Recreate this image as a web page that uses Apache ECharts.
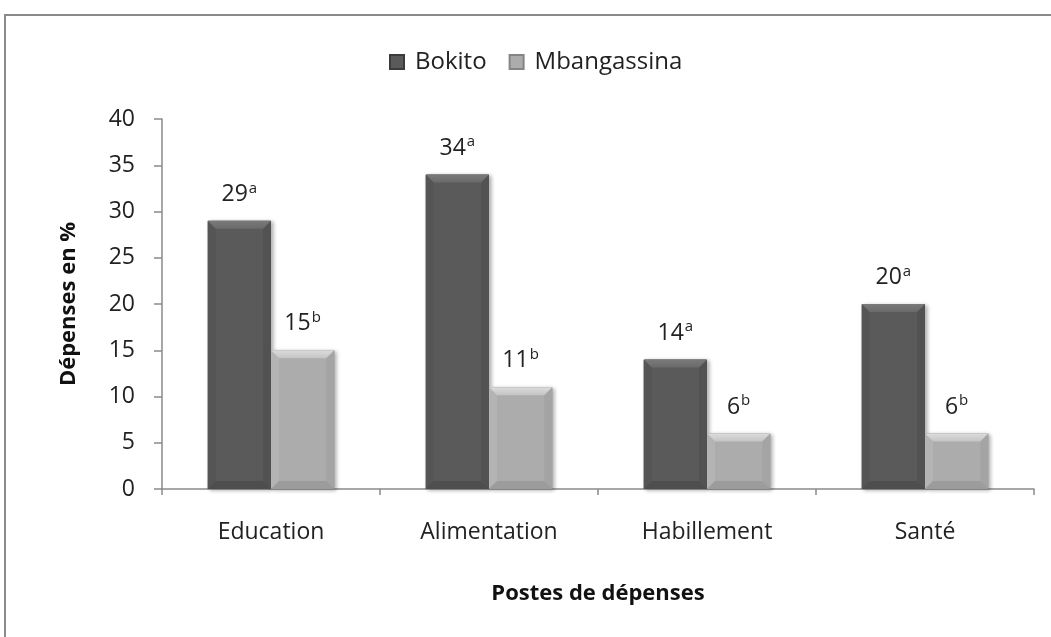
<!DOCTYPE html>
<html>
<head>
<meta charset="UTF-8">
<script src="https://cdn.jsdelivr.net/npm/echarts@6/dist/echarts.min.js"></script>
<style>
  body { margin: 0; background: #fff; }
  #chart { width: 1051px; height: 637px; }
</style>
</head>
<body>
<div id="chart"></div>
<script>
// data
const categories = ['Education', 'Alimentation', 'Habillement', 'Santé'];
const bokito = [29, 34, 14, 20];
const mbangassina = [15, 11, 6, 6];
const bokitoLetters = ['a', 'a', 'a', 'a'];
const mbangassinaLetters = ['b', 'b', 'b', 'b'];
const yTicks = [0, 5, 10, 15, 20, 25, 30, 35, 40];

const font = '"Open Sans", "Noto Sans", sans-serif';
const catGap = 0.42;   // share of a category left empty
const bevel = 8;

function labelFor(letters) {
    return {
        show: true,
        position: 'top',
        distance: 13,
        formatter: p => '{v|' + p.value + '}{s|' + letters[p.dataIndex] + '}',
        rich: {
            v: { fontFamily: font, fontSize: 23, color: '#222' },
            s: { fontFamily: font, fontSize: 15, color: '#222', verticalAlign: 'top', padding: [0, 0, 12, 1] }
        }
    };
}

function vgrad(c0, c1) {
    return new echarts.graphic.LinearGradient(0, 0, 0, 1, [
        { offset: 0, color: c0 }, { offset: 1, color: c1 }
    ]);
}

// bevel overlay drawn on top of each bar (Excel "soft edge" look)
function bevelSeries(values, side, shades) {
    return {
        type: 'custom',
        silent: true,
        z: 3,
        data: values.map((v, i) => [i, v]),
        renderItem: (params, api) => {
            const idx = api.value(0), val = api.value(1);
            const top = api.coord([idx, val]);
            const base = api.coord([idx, 0]);
            const bw = api.size([1, 0])[0] * (1 - catGap) / 2;
            const x0 = side < 0 ? top[0] - bw : top[0];
            const x1 = x0 + bw;
            const y0 = top[1], y1 = base[1];
            const b = Math.min(bevel, (y1 - y0) / 2);
            const poly = (pts, fill) => ({ type: 'polygon', shape: { points: pts }, style: { fill: fill } });
            return {
                type: 'group',
                children: [
                    poly([[x0, y0], [x0 + b, y0 + b], [x0 + b, y1 - b], [x0, y1]], shades.left),
                    poly([[x1, y0], [x1 - b, y0 + b], [x1 - b, y1 - b], [x1, y1]], shades.right),
                    poly([[x0, y1], [x1, y1], [x1 - b, y1 - b], [x0 + b, y1 - b]], shades.bottom),
                    poly([[x0, y0], [x1, y0], [x1 - b, y0 + b], [x0 + b, y0 + b]], vgrad(shades.top, shades.topEnd))
                ]
            };
        }
    };
}

const chart = echarts.init(document.getElementById('chart'));
chart.setOption({
    animation: false,
    graphic: [{
        type: 'rect',
        shape: { x: 5, y: 15, width: 1200, height: 800 },
        style: { fill: 'none', stroke: '#8a8a8a', lineWidth: 2 }
    }],
    legend: {
        top: 45,
        left: 384,
        itemWidth: 14,
        itemHeight: 14,
        itemGap: 22,
        icon: 'rect',
        formatter: name => '{t|' + name + '}',
        textStyle: {
            fontFamily: font, fontSize: 24, color: '#222',
            rich: { t: { fontFamily: font, fontSize: 24, color: '#222', padding: [0, 0, 0, 6] } }
        },
        data: ['Bokito', 'Mbangassina']
    },
    grid: { left: 162, right: 17, top: 119, bottom: 148 },
    xAxis: {
        type: 'category',
        data: categories,
        name: 'Postes de dépenses',
        nameLocation: 'middle',
        nameGap: 94,
        nameTextStyle: { fontFamily: font, fontSize: 22, fontWeight: 'bold', color: '#111' },
        axisLine: { lineStyle: { color: '#8a8a8a', width: 1.5 } },
        axisTick: { show: true, length: 6, lineStyle: { color: '#8a8a8a', width: 1.5 } },
        axisLabel: { fontFamily: font, fontSize: 23, color: '#222', margin: 32 }
    },
    yAxis: {
        type: 'value',
        min: 0,
        max: 40,
        interval: 5,
        name: 'Dépenses en %',
        nameLocation: 'middle',
        nameGap: 82,
        nameRotate: 90,
        nameTextStyle: { fontFamily: font, fontSize: 22, fontWeight: 'bold', color: '#111' },
        axisLine: { show: true, lineStyle: { color: '#8a8a8a', width: 1.5 } },
        axisTick: { show: true, length: 8, lineStyle: { color: '#8a8a8a', width: 1.5 } },
        splitLine: { show: false },
        axisLabel: {
            fontFamily: font, fontSize: 23, color: '#222', margin: 27,
            formatter: v => yTicks.includes(v) ? String(v) : ''
        }
    },
    series: [{
        name: 'Bokito',
        type: 'bar',
        data: bokito,
        barGap: '0%',
        barCategoryGap: (catGap * 100) + '%',
        itemStyle: {
            color: '#5a5a5a',
            borderColor: '#3c3c3c',
            borderWidth: 1,
            shadowColor: 'rgba(0,0,0,0.3)',
            shadowBlur: 4,
            shadowOffsetX: 2,
            shadowOffsetY: 1
        },
        label: labelFor(bokitoLetters)
    }, {
        name: 'Mbangassina',
        type: 'bar',
        data: mbangassina,
        itemStyle: {
            color: '#acacac',
            borderColor: '#858585',
            borderWidth: 1,
            shadowColor: 'rgba(0,0,0,0.3)',
            shadowBlur: 4,
            shadowOffsetX: 2,
            shadowOffsetY: 1
        },
        label: labelFor(mbangassinaLetters)
    },
    bevelSeries(bokito, -1, { top: '#7a7a7a', topEnd: '#6a6a6a', bottom: '#4e4e4e', left: '#555555', right: '#525252' }),
    bevelSeries(mbangassina, 1, { top: '#dcdcdc', topEnd: '#c4c4c4', bottom: '#9c9c9c', left: '#b4b4b4', right: '#a4a4a4' })
    ]
});
</script>
</body>
</html>
